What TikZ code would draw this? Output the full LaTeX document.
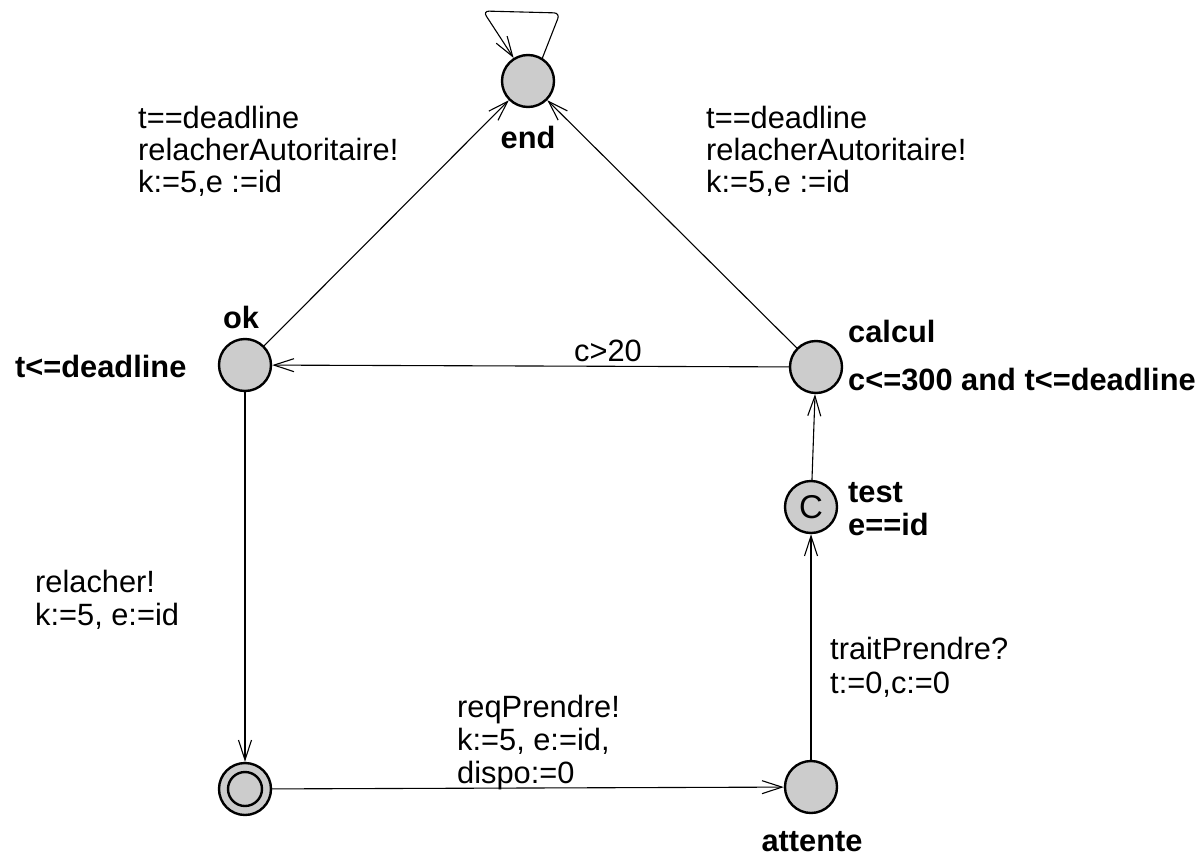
\documentclass[tikz,border=0pt]{standalone}
\usepackage{fontspec}
\setmainfont{Liberation Sans}
\usetikzlibrary{arrows.meta}
\definecolor{locfill}{RGB}{204,204,204}
\begin{document}
\begin{tikzpicture}[x=1pt,y=-1pt,
  loc/.style={circle, draw=black, line width=2.4pt, fill=locfill, minimum size=52pt, inner sep=0pt},
  edge/.style={line width=1.1pt, -{Straight Barb[length=20pt,width=13pt,line width=1.1pt]}},
  lbl/.style={font=\fontsize{30.8}{32}\selectfont, inner sep=0pt, align=left},
  blbl/.style={font=\fontsize{30.8}{32}\selectfont\bfseries, inner sep=0pt, align=left},
]
\useasboundingbox (0,0) rectangle (1199,859);

% locations
\node[loc] (end) at (528,81) {};
\node[loc] (ok) at (245,365) {};
\node[loc] (calcul) at (816,367) {};
\node[loc, font=\fontsize{33}{33}\selectfont] (test) at (811,507) {C};
\node[loc] (attente) at (811,787) {};
\node[loc] (init) at (245,789) {};
\draw[line width=2.4pt] (init.center) circle[radius=17pt];

% location names and invariants
\node[blbl, anchor=base] (nend) at (528,148) {end};
\node[blbl, anchor=base] (nok) at (241,328) {ok};
\node[blbl, anchor=base west] (iok) at (15,377) {t<=deadline};
\node[blbl, anchor=base west] (ncalcul) at (848,342) {calcul};
\node[blbl, anchor=base west] (icalcul) at (848,390) {c<=300 and t<=deadline};
\node[blbl, anchor=base west] (ntest) at (848,502) {test};
\node[blbl, anchor=base west] (itest) at (848,535) {e==id};
\node[blbl, anchor=base] (nattente) at (812,851) {attente};

% edges
\draw[edge, rounded corners=6pt] (end.58) -- (560,13) -- (483,11) -- (end.122);
\draw[edge] (ok) -- (end);
\draw[edge] (calcul) -- (end);
\draw[edge] (calcul) -- (ok);
\draw[edge] (test) -- (calcul);
\draw[edge] (attente) -- (test);
\draw[edge] (init) -- (attente);
\draw[edge] (ok) -- (init);

% edge labels (anchored at the baseline of the last line)
\node[lbl, anchor=base west] (l1) at (138,192) {t==deadline\\relacherAutoritaire!\\k:=5,e :=id};
\node[lbl, anchor=base west] (l2) at (706,192) {t==deadline\\relacherAutoritaire!\\k:=5,e :=id};
\node[lbl, anchor=base] (l3) at (608,361) {c>20};
\node[lbl, anchor=base west, font=\fontsize{30.8}{33}\selectfont] (l4) at (35,625) {relacher!\\k:=5, e:=id};
\node[lbl, anchor=base west, font=\fontsize{30.8}{34}\selectfont] (l5) at (830,693) {traitPrendre?\\t:=0,c:=0};
\node[lbl, anchor=base west, font=\fontsize{30.8}{33}\selectfont] (l6) at (457,783) {reqPrendre!\\k:=5, e:=id,\\dispo:=0};
\end{tikzpicture}
\end{document}
